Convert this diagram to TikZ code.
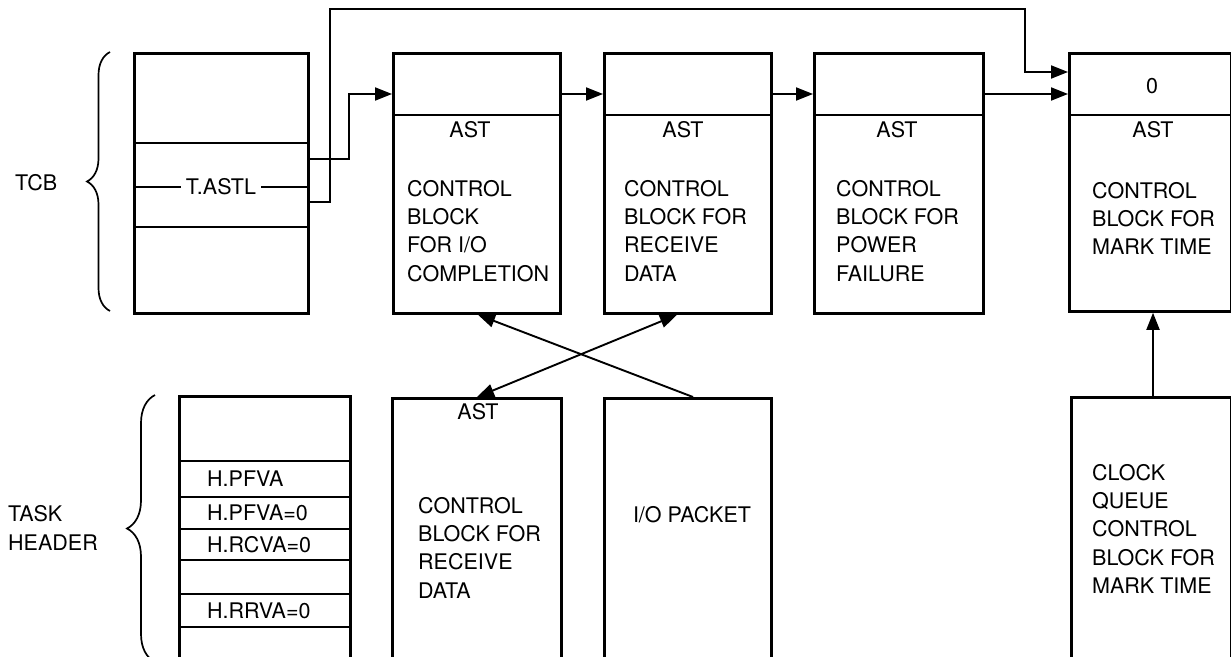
\documentclass[tikz,border=0pt]{standalone}
\usepackage{fontspec}
\setmainfont{TeX Gyre Heros}
\usetikzlibrary{arrows.meta,decorations.pathreplacing}
\newcommand{\fs}{\fontsize{21.5}{28.3}\selectfont}
\begin{document}
\begin{tikzpicture}[x=1pt,y=-1pt,
  box/.style={draw,line width=2.8pt,rectangle,anchor=north west,inner sep=0pt},
  divider/.style={line width=1.7pt},
  arr/.style={line width=1.9pt,-{Triangle[length=17pt,width=13pt]}},
  dblarr/.style={line width=1.9pt,{Triangle[length=17pt,width=13pt]}-{Triangle[length=17pt,width=13pt]}},
  txt/.style={anchor=north west,inner sep=0pt,align=left,font=\fs},
  lbl/.style={inner sep=0pt,font=\fs},
  brace/.style={decorate,decoration={brace,amplitude=#1,aspect=0.5},line width=1.7pt}
]
\useasboundingbox (0,0) rectangle (1231,656);

% top row boxes
\node[box,minimum width=174pt,minimum height=260pt] (tcb) at (133,52) {};
\node[box,minimum width=167pt,minimum height=260pt] (b1) at (392,52) {};
\node[box,minimum width=167pt,minimum height=260pt] (b2) at (603,52) {};
\node[box,minimum width=169pt,minimum height=260pt] (b3) at (813,52) {};
\node[box,minimum width=162pt,minimum height=258pt] (b4) at (1068,52) {};

% bottom row boxes (open at the bottom edge)
\node[box,minimum width=171pt,minimum height=275pt] (th) at (178,395) {};
\node[box,minimum width=169pt,minimum height=275pt] (b5) at (391,397) {};
\node[box,minimum width=167pt,minimum height=275pt] (iop) at (603,397) {};
\node[box,minimum width=160pt,minimum height=275pt] (clk) at (1070,396) {};

% TCB dividers
\draw[divider] (tcb.west |- 0,143) -- (tcb.east |- 0,143);
\draw[divider] (tcb.west |- 0,227) -- (tcb.east |- 0,227);
\draw[divider] (tcb.west |- 0,187) -- (tcb.east |- 0,187);
\node[lbl,fill=white,inner xsep=5pt,inner ysep=3pt] (astl) at (221,187) {T.ASTL};

% top box dividers
\foreach \b in {b1,b2,b3,b4}{
  \draw[divider] (\b.west |- 0,115) -- (\b.east |- 0,115);
}

% task header dividers
\foreach \yy in {461,497,529,560,594,627}{
  \draw[divider] (th.west |- 0,\yy) -- (th.east |- 0,\yy);
}
\node[lbl,anchor=west] (h1) at (207,479) {H.PFVA};
\node[lbl,anchor=west] (h2) at (207,513) {H.PFVA=0};
\node[lbl,anchor=west] (h3) at (207,545) {H.RCVA=0};
\node[lbl,anchor=west] (h4) at (207,611) {H.RRVA=0};

% labels in top boxes
\node[lbl] (ast1) at (470,130) {AST};
\node[lbl] (ast2) at (683,130) {AST};
\node[lbl] (ast3) at (897,130) {AST};
\node[lbl] (ast4) at (1153,130) {AST};
\node[lbl] (zero) at (1152,86) {0};
\node[txt] (t1) at (407,180) {CONTROL\\BLOCK\\FOR I/O\\COMPLETION};
\node[txt] (t2) at (624,180) {CONTROL\\BLOCK FOR\\RECEIVE\\DATA};
\node[txt] (t3) at (836,180) {CONTROL\\BLOCK FOR\\POWER\\FAILURE};
\node[txt] (t4) at (1092,182) {CONTROL\\BLOCK FOR\\MARK TIME};

% labels in bottom boxes
\node[lbl] (ast5) at (478,412) {AST};
\node[txt] (t5) at (418,497) {CONTROL\\BLOCK FOR\\RECEIVE\\DATA};
\node[lbl] (t6) at (692,515) {I/O PACKET};
\node[txt] (t7) at (1092,464) {CLOCK\\QUEUE\\CONTROL\\BLOCK FOR\\MARK TIME};

% side labels and braces
\node[lbl,anchor=west] (tcblbl) at (15,183) {TCB};
\node[lbl,anchor=west,align=left] (thlbl) at (8,528) {TASK\\HEADER};
\draw[brace=23pt] (110,311) -- (110,52);
\draw[brace=28pt] (155,662) -- (155,395);

% connectors
\draw[arr] (tcb.east |- 0,159) -| (349,94) -- (b1.west |- 0,94);
\draw[arr] (tcb.east |- 0,202) -| (330,9) -| (1025,72) -- (b4.west |- 0,72);
\draw[arr] (b1.east |- 0,94) -- (b2.west |- 0,94);
\draw[arr] (b2.east |- 0,94) -- (b3.west |- 0,94);
\draw[arr] (b3.east |- 0,94) -- (b4.west |- 0,94);
\draw[arr] (iop.north -| 693,0) -- (b1.south -| 478,0);
\draw[dblarr] (b5.north -| 477,0) -- (b2.south -| 677,0);
\draw[arr] (clk.north -| 1153,0) -- (b4.south -| 1153,0);
\end{tikzpicture}
\end{document}
